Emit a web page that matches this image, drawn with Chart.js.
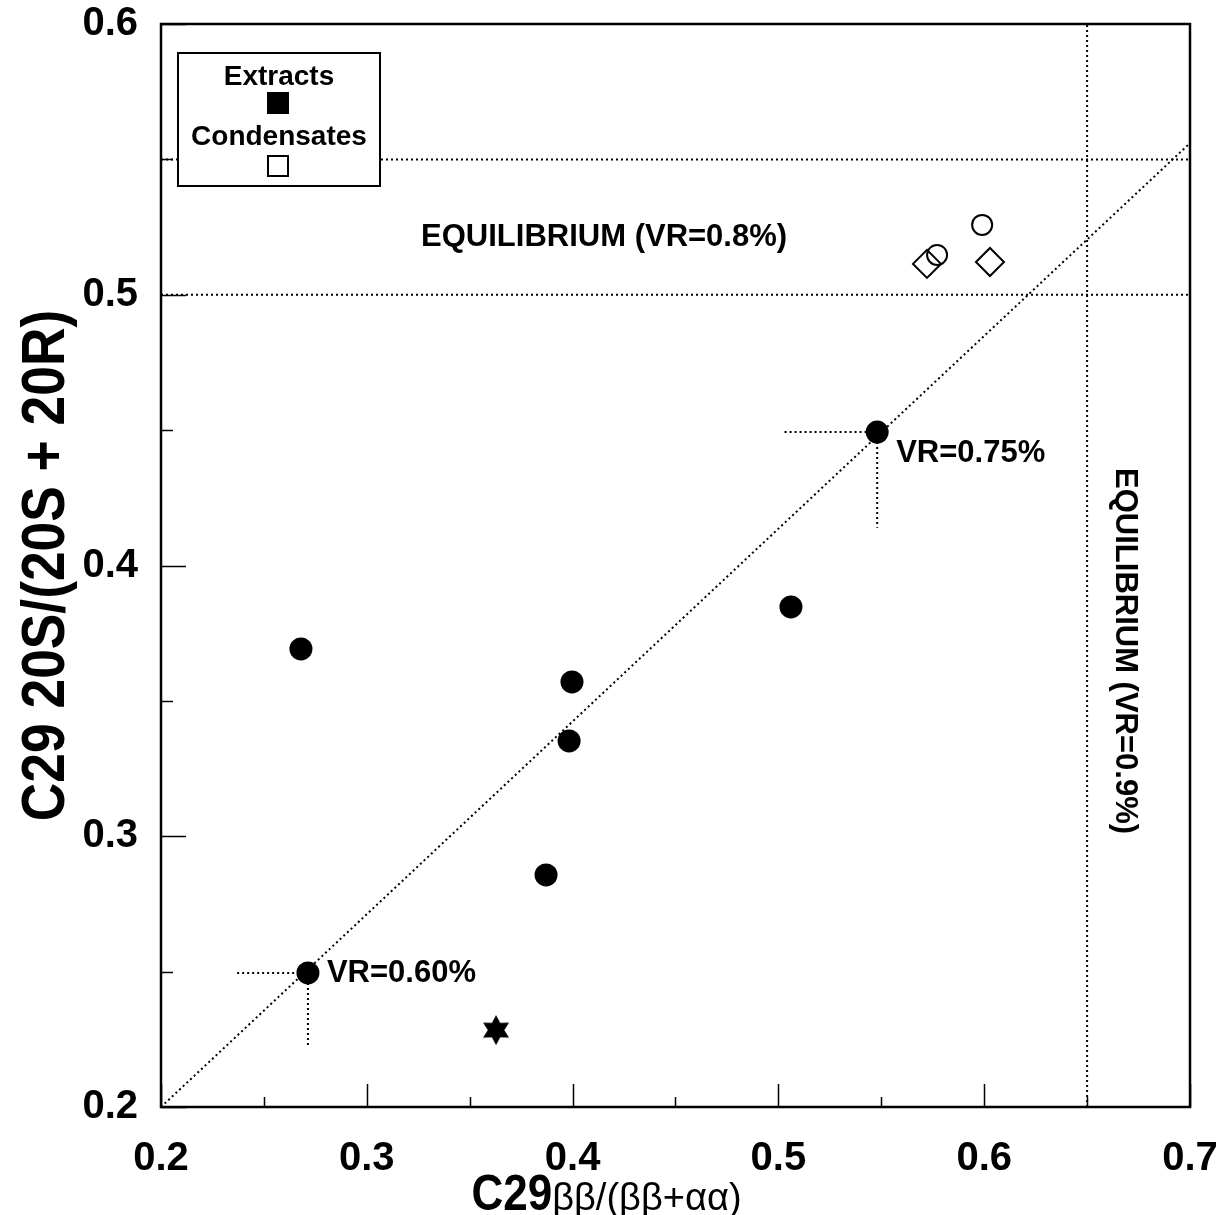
<!DOCTYPE html>
<html lang="en">
<head>
  <meta charset="UTF-8" />
  <title>C29 sterane maturity</title>
  <script src="https://cdn.jsdelivr.net/npm/chart.js"></script>
  <style>
    html, body { margin: 0; padding: 0; background: #fff; }
    #wrap { width: 1216px; height: 1215px; }
  </style>
</head>
<body>
  <div id="wrap"><canvas id="chart" width="1216" height="1215"></canvas></div>
  <script>
    // data
    const extractX = [0.2714, 0.548, 0.268, 0.3997, 0.3983, 0.3871, 0.5061];
    const extractY = [0.2495, 0.4493, 0.3692, 0.357, 0.3352, 0.2857, 0.3847];
    const condCircleX = [0.599, 0.5771];
    const condCircleY = [0.5258, 0.5147];
    const condDiamondX = [0.5722, 0.6028];
    const condDiamondY = [0.5114, 0.5121];
    const starX = [0.3628];
    const starY = [0.2284];

    // reference lines: diagonal, equilibria, VR error bars
    const diagX = [0.2, 0.7];
    const diagY = [0.2, 0.556];
    const eqY = [0.5, 0.55];
    const eqX = 0.65;
    const vrLabels = ['VR=0.60%', 'VR=0.75%'];
    const vrX = [0.2714, 0.548];
    const vrY = [0.2495, 0.4493];
    const vrXlow = [0.237, 0.503];
    const vrYlow = [0.2218, 0.4139];

    const xTicks = [0.2, 0.3, 0.4, 0.5, 0.6, 0.7];
    const yTicks = [0.2, 0.3, 0.4, 0.5, 0.6];

    const pts = (xs, ys) => xs.map((x, i) => ({ x, y: ys[i] }));
    const FONT = '"Liberation Sans", Arial, sans-serif';

    // six-point star marker
    function makeStar(r) {
      const c = document.createElement('canvas');
      c.width = c.height = r * 2 + 2;
      const g = c.getContext('2d');
      const cx = r + 1, cy = r + 1;
      g.fillStyle = '#000';
      g.beginPath();
      for (let i = 0; i < 12; i++) {
        const a = -Math.PI / 2 + i * Math.PI / 6;
        const rr = i % 2 === 0 ? r : r * 0.55;
        const px = cx + rr * Math.cos(a), py = cy + rr * Math.sin(a);
        i === 0 ? g.moveTo(px, py) : g.lineTo(px, py);
      }
      g.closePath();
      g.fill();
      return c;
    }

    const dotted = { type: 'line', borderColor: '#000', borderWidth: 2, borderDash: [2, 3],
                     pointRadius: 0, fill: false, tension: 0 };

    const datasets = [
      { ...dotted, data: pts(diagX, diagY) },
      { ...dotted, data: [{ x: 0.2, y: eqY[0] }, { x: 0.7, y: eqY[0] }] },
      { ...dotted, data: [{ x: 0.2, y: eqY[1] }, { x: 0.7, y: eqY[1] }] },
      { ...dotted, data: [{ x: eqX, y: 0.2 }, { x: eqX, y: 0.6 }] }
    ];
    vrX.forEach((x, i) => {
      datasets.push({ ...dotted, data: [{ x: vrXlow[i], y: vrY[i] }, { x, y: vrY[i] }] });
      datasets.push({ ...dotted, data: [{ x, y: vrY[i] }, { x, y: vrYlow[i] }] });
    });
    datasets.push(
      { label: 'Extracts', data: pts(extractX, extractY), pointStyle: 'circle', pointRadius: 11.5,
        backgroundColor: '#000', borderColor: '#000', borderWidth: 0 },
      { label: 'Condensates', data: pts(condCircleX, condCircleY), pointStyle: 'circle', pointRadius: 10,
        backgroundColor: 'rgba(255,255,255,0)', borderColor: '#000', borderWidth: 2 },
      { label: 'Condensates', data: pts(condDiamondX, condDiamondY), pointStyle: 'rectRot', pointRadius: 14,
        backgroundColor: 'rgba(255,255,255,0)', borderColor: '#000', borderWidth: 2 },
      { label: 'Star', data: pts(starX, starY), pointStyle: makeStar(15), pointRadius: 15 }
    );

    const decor = {
      id: 'decor',
      afterDatasetsDraw(chart) {
        const ctx = chart.ctx;
        const a = chart.chartArea;
        const xs = chart.scales.x, ys = chart.scales.y;
        ctx.save();
        ctx.strokeStyle = '#000';
        ctx.fillStyle = '#000';

        // frame
        ctx.lineWidth = 2.5;
        ctx.strokeRect(a.left, a.top, a.right - a.left, a.bottom - a.top);

        // inward ticks
        ctx.lineWidth = 1.5;
        ctx.beginPath();
        for (let v = 0.2; v <= 0.7001; v += 0.05) {
          const px = Math.round(xs.getPixelForValue(v)) + 0.5;
          const major = Math.abs(v * 10 - Math.round(v * 10)) < 1e-6;
          const len = major ? 23 : 10;
          ctx.moveTo(px, a.bottom); ctx.lineTo(px, a.bottom - len);
        }
        for (let v = 0.2; v <= 0.6001; v += 0.05) {
          const py = Math.round(ys.getPixelForValue(v)) + 0.5;
          const major = Math.abs(v * 10 - Math.round(v * 10)) < 1e-6;
          const len = major ? 25 : 12;
          ctx.moveTo(a.left, py); ctx.lineTo(a.left + len, py);
        }
        ctx.stroke();

        // annotation texts
        ctx.font = 'bold 31px ' + FONT;
        ctx.textBaseline = 'middle';
        ctx.textAlign = 'center';
        ctx.fillText('EQUILIBRIUM (VR=0.8%)', xs.getPixelForValue(0.4153), ys.getPixelForValue(0.5213));
        ctx.textAlign = 'left';
        vrLabels.forEach((t, i) => {
          ctx.fillText(t, xs.getPixelForValue(vrX[i]) + 19, ys.getPixelForValue(vrY[i]) + (i === 1 ? 21 : 0));
        });
        ctx.save();
        ctx.translate(xs.getPixelForValue(0.6684), ys.getPixelForValue(0.3684));
        ctx.rotate(Math.PI / 2);
        ctx.textAlign = 'center';
        ctx.fillText('EQUILIBRIUM (VR=0.9%)', 0, 0);
        ctx.restore();

        // legend box
        const lx = a.left + 17, ly = a.top + 29, lw = 202, lh = 133;
        ctx.fillStyle = '#fff';
        ctx.fillRect(lx, ly, lw, lh);
        ctx.lineWidth = 2;
        ctx.strokeRect(lx, ly, lw, lh);
        ctx.fillStyle = '#000';
        ctx.textAlign = 'center';
        ctx.font = 'bold 28px ' + FONT;
        const cx = lx + lw / 2;
        ctx.fillText('Extracts', cx, ly + 24);
        ctx.fillRect(cx - 12, ly + 39, 22, 22);
        ctx.fillText('Condensates', cx, ly + 84);
        ctx.strokeRect(cx - 11, ly + 103, 20, 20);

        // axis titles
        ctx.save();
        ctx.translate(47, (a.top + a.bottom) / 2);
        ctx.rotate(-Math.PI / 2);
        ctx.scale(0.86, 1);
        ctx.textAlign = 'center';
        ctx.font = 'bold 62px ' + FONT;
        ctx.fillText('C29 20S/(20S + 20R)', 0, 0);
        ctx.restore();

        ctx.save();
        ctx.textBaseline = 'alphabetic';
        ctx.textAlign = 'left';
        const big = 'C29', small = 'ββ/(ββ+αα)';
        ctx.font = 'bold 50px ' + FONT;
        const wBig = ctx.measureText(big).width * 0.88;
        ctx.font = '38px ' + FONT;
        const wSmall = ctx.measureText(small).width;
        const x0 = (a.left + a.right) / 2 - 69 - (wBig + wSmall) / 2;
        ctx.translate(x0, 1210);
        ctx.save();
        ctx.scale(0.88, 1);
        ctx.font = 'bold 50px ' + FONT;
        ctx.fillText(big, 0, 0);
        ctx.restore();
        ctx.translate(wBig, 0);
        ctx.font = '38px ' + FONT;
        ctx.fillText(small, 0, 0);
        ctx.restore();

        ctx.restore();
      }
    };

    new Chart(document.getElementById('chart'), {
      type: 'scatter',
      data: { datasets },
      options: {
        responsive: false,
        animation: false,
        layout: { padding: { top: 24, right: 26, left: 0, bottom: 0 } },
        plugins: { legend: { display: false }, tooltip: { enabled: false } },
        scales: {
          x: {
            type: 'linear', min: 0.2, max: 0.7,
            afterBuildTicks: s => { s.ticks = xTicks.map(v => ({ value: v })); },
            afterFit: s => { s.height = 108; s.paddingLeft = 0; s.paddingRight = 0; },
            grid: { display: false, drawTicks: false },
            border: { display: false },
            ticks: { color: '#000', padding: 28, font: { family: FONT, size: 40, weight: 'bold' },
                     maxRotation: 0, callback: v => v.toFixed(1) }
          },
          y: {
            type: 'linear', min: 0.2, max: 0.6,
            afterBuildTicks: s => { s.ticks = yTicks.map(v => ({ value: v })); },
            afterFit: s => { s.width = 161; s.paddingTop = 0; s.paddingBottom = 0; },
            grid: { display: false, drawTicks: false },
            border: { display: false },
            ticks: { color: '#000', padding: 23, font: { family: FONT, size: 40, weight: 'bold' },
                     callback: v => v.toFixed(1) }
          }
        }
      },
      plugins: [decor]
    });
  </script>
</body>
</html>
